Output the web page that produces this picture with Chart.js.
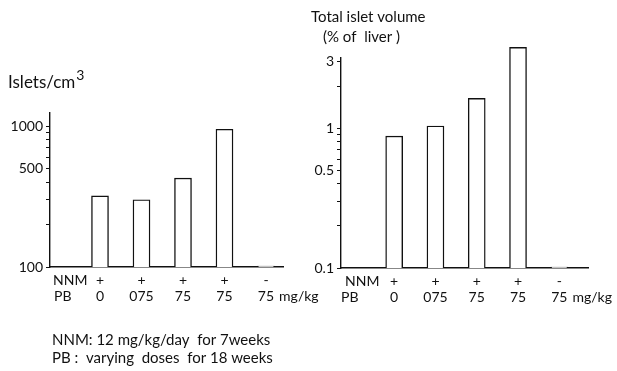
<!DOCTYPE html>
<html>
<head>
<meta charset="utf-8">
<script src="https://cdn.jsdelivr.net/npm/chart.js@4/dist/chart.umd.min.js"></script>
<style>
  html, body { margin: 0; padding: 0; background: #fff; }
  #wrap { position: relative; width: 617px; height: 371px; }
  #left  { position: absolute; left: 0;     top: 0; }
  #right { position: absolute; left: 305px; top: 0; }
</style>
</head>
<body>
<div id="wrap">
  <canvas id="left" width="330" height="371"></canvas>
  <canvas id="right" width="312" height="371"></canvas>
</div>
<script>
// Treatment groups (bar order along the x axis)
const groups = [1, 2, 3, 4, 5];
const nnmMarks = ['+', '+', '+', '+', '-'];
const pbDoses = ['0', '075', '75', '75', '75'];

// Islet counts per cm3 of liver
const isletsPerCm3 = [320, 300, 428, 950, 101.5];
// Total islet volume, % of liver
const isletVolumePct = [0.88, 1.04, 1.64, 3.8, 0.1015];

// Log-axis tick marks and the ones that carry a label
const leftTicks = [100, 200, 300, 400, 500, 600, 700, 800, 900, 1000];
const leftLabels = [100, 500, 1000];
const rightTicks = [0.1, 0.2, 0.3, 0.4, 0.5, 0.6, 0.7, 0.8, 0.9, 1, 2, 3];
const rightLabels = [0.1, 0.5, 1, 3];

const FONT = 'Lato, "Open Sans", sans-serif';
const INK = '#111';
const ROW_LH = 16;
Chart.defaults.font.family = FONT;
Chart.defaults.color = INK;

function makeChart(canvasId, values, yMin, yMax, yTicks, yLabels, geom, drawExtras) {
  const ctx = document.getElementById(canvasId);
  return new Chart(ctx, {
    type: 'bar',
    data: {
      datasets: [{
        data: groups.map((g, i) => ({ x: g, y: values[i] })),
        backgroundColor: '#fff',
        borderColor: INK,
        borderWidth: 1.4,
        barThickness: 17,
        clip: false
      }]
    },
    options: {
      responsive: false,
      animation: false,
      devicePixelRatio: 1,
      layout: { padding: { top: geom.top, right: geom.right, left: 0, bottom: 0 } },
      plugins: { legend: { display: false }, tooltip: { enabled: false } },
      scales: {
        x: {
          type: 'linear',
          min: geom.xMin,
          max: geom.xMax,
          offset: false,
          grid: { display: false, offset: false },
          border: { display: true, color: INK, width: 1.4 },
          afterBuildTicks: axis => { axis.ticks = groups.map(v => ({ value: v })); },
          afterFit: scale => { scale.height = geom.xHeight; },
          ticks: {
            autoSkip: false,
            maxRotation: 0,
            padding: -3,
            font: { size: 14, lineHeight: ROW_LH / 14 },
            color: INK,
            callback: v => {
              const i = groups.indexOf(v);
              return i < 0 ? '' : [nnmMarks[i], pbDoses[i]];
            }
          }
        },
        y: {
          type: 'logarithmic',
          min: yMin,
          max: yMax,
          grid: { drawOnChartArea: false, drawTicks: true, tickLength: 4, color: INK, lineWidth: 1 },
          border: { display: true, color: INK, width: 1.4 },
          afterBuildTicks: axis => { axis.ticks = yTicks.map(v => ({ value: v })); },
          afterFit: scale => { scale.width = geom.yWidth; },
          ticks: {
            autoSkip: false,
            padding: 3,
            font: { size: 14 },
            color: INK,
            callback: v => (yLabels.includes(v) ? String(v) : '')
          }
        }
      }
    },
    plugins: [{
      id: 'extraText',
      afterDraw(chart) {
        const c = chart.ctx;
        const area = chart.chartArea;
        const xs = chart.scales.x;
        c.save();
        c.fillStyle = INK;
        c.textBaseline = 'middle';
        // row headers and unit, on the same lines as the x tick labels
        const items = xs.getLabelItems ? xs.getLabelItems() : [];
        let row1 = area.bottom + 12;
        if (items.length && items[0].options && items[0].options.translation) {
          row1 = items[0].options.translation[1] + (items[0].textOffset || 0);
        }
        const row2 = row1 + ROW_LH;
        c.font = '14px ' + FONT;
        c.textAlign = 'left';
        c.fillText('NNM', area.left + geom.nnmIndent, row1);
        c.fillText('PB', area.left + geom.pbIndent, row2);
        const lastX = xs.getPixelForValue(groups[groups.length - 1]);
        const half = c.measureText(pbDoses[pbDoses.length - 1]).width / 2;
        c.fillText('mg/kg', lastX + half + 5, row2);
        drawExtras(c, chart);
        c.restore();
      }
    }]
  });
}

makeChart('left', isletsPerCm3, 100, 1240, leftTicks, leftLabels,
  { top: 113, right: 47, xMin: -0.205, xMax: 5.41, xHeight: 104, yWidth: 50, nnmIndent: 3, pbIndent: 4 },
  (c) => {
    c.textAlign = 'left';
    c.textBaseline = 'alphabetic';
    c.font = '17px ' + FONT;
    c.fillText('Islets/cm', 8, 88);
    const w = c.measureText('Islets/cm').width;
    c.font = '14px ' + FONT;
    c.fillText('3', 8 + w + 1, 80);
    c.textBaseline = 'middle';
    c.font = '15px ' + FONT;
    c.fillText('NNM: 12 mg/kg/day  for 7weeks', 52, 340);
    c.fillText('PB :  varying  doses  for 18 weeks', 52, 358);
  });

makeChart('right', isletVolumePct, 0.1, 3.19, rightTicks, rightLabels,
  { top: 58, right: 29, xMin: -0.288, xMax: 5.695, xHeight: 103, yWidth: 36, nnmIndent: 4, pbIndent: 0 },
  (c) => {
    c.textAlign = 'left';
    c.textBaseline = 'middle';
    c.font = '15px ' + FONT;
    c.fillText('Total islet volume', 6, 17);
    c.fillText('(% of  liver )', 18, 37);
  });
</script>
</body>
</html>
